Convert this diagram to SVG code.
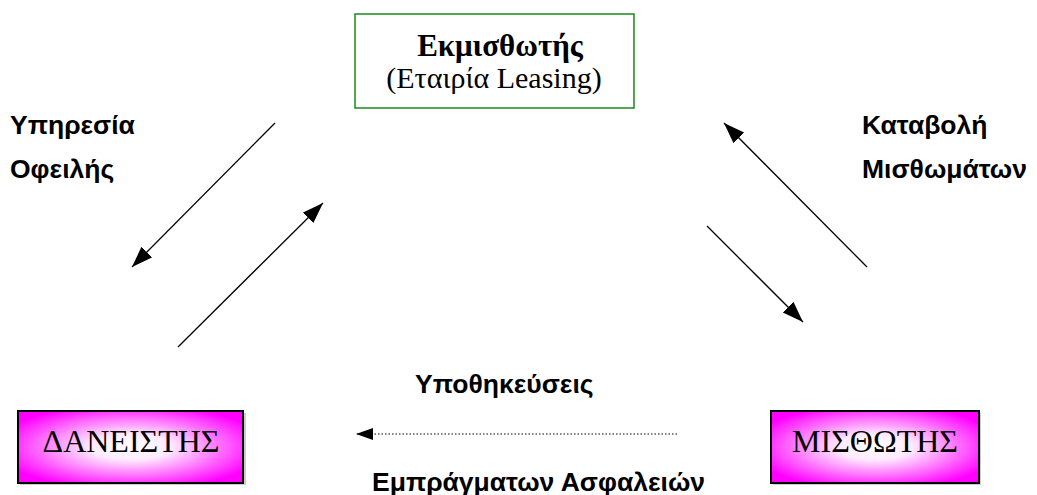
<svg xmlns="http://www.w3.org/2000/svg" width="1037" height="495" viewBox="0 0 1037 495">
<defs>
<style>
.lbl{font-family:"Liberation Sans",Arial,sans-serif;font-weight:bold;font-size:26.5px;fill:#000}
.serif{font-family:"Liberation Serif","Times New Roman",serif;fill:#000}
.conn{stroke:#000;stroke-width:1.3;fill:none}
.dot{stroke:#000;stroke-width:1.2;fill:none;stroke-dasharray:1.5 2}
.pink{stroke:#000;stroke-width:2;fill:url(#rg)}
</style>
<radialGradient id="rg" cx="50%" cy="50%" r="60%">
<stop offset="0" stop-color="#ffffff"/>
<stop offset="0.3" stop-color="#ffeaff"/>
<stop offset="1" stop-color="#ff00ff"/>
</radialGradient>
<marker id="ah" markerUnits="userSpaceOnUse" markerWidth="24" markerHeight="18" refX="21" refY="7.5" orient="auto">
<path d="M0,0 L21,7.5 L0,15 z" fill="#000"/>
</marker>
<marker id="ahs" markerUnits="userSpaceOnUse" markerWidth="20" markerHeight="14" refX="17" refY="6" orient="auto">
<path d="M0,0 L17,6 L0,12 z" fill="#000"/>
</marker>
</defs>
<rect width="1037" height="495" fill="#fff"/>
<g id="lessor">
<rect x="355" y="14" width="279" height="94" fill="#fff" stroke="#1a8a1a" stroke-width="1.5"/>
<text class="serif" x="500" y="56" text-anchor="middle" font-size="31" font-weight="bold">Εκμισθωτής</text>
<text class="serif" x="494" y="88" text-anchor="middle" font-size="30">(Εταιρία Leasing)</text>
</g>
<g id="lender">
<rect x="20" y="413" width="226" height="72" fill="#cccccc"/>
<rect x="18" y="411" width="225" height="72" class="pink"/>
<text class="serif" x="131" y="452" text-anchor="middle" font-size="32">ΔΑΝΕΙΣΤΗΣ</text>
</g>
<g id="lessee">
<rect x="773" y="413" width="208" height="72" fill="#cccccc"/>
<rect x="771" y="411" width="208" height="72" class="pink"/>
<text class="serif" x="875" y="452" text-anchor="middle" font-size="32">ΜΙΣΘΩΤΗΣ</text>
</g>
<g id="labels">
<text class="lbl" x="10" y="134">Υπηρεσία</text>
<text class="lbl" x="10" y="178">Οφειλής</text>
<text class="lbl" x="862" y="134">Καταβολή</text>
<text class="lbl" x="862" y="178">Μισθωμάτων</text>
<text class="lbl" x="415" y="393">Υποθηκεύσεις</text>
<text class="lbl" x="372" y="491">Εμπράγματων Ασφαλειών</text>
</g>
<g id="connectors">
<line class="conn" x1="275" y1="123" x2="132" y2="267" marker-end="url(#ah)"/>
<line class="conn" x1="178" y1="347" x2="323" y2="203" marker-end="url(#ah)"/>
<line class="conn" x1="867" y1="267" x2="724" y2="123" marker-end="url(#ah)"/>
<line class="conn" x1="707" y1="226" x2="803" y2="322" marker-end="url(#ah)"/>
<line class="dot" x1="677" y1="434" x2="356" y2="434" marker-end="url(#ahs)"/>
</g>
</svg>
